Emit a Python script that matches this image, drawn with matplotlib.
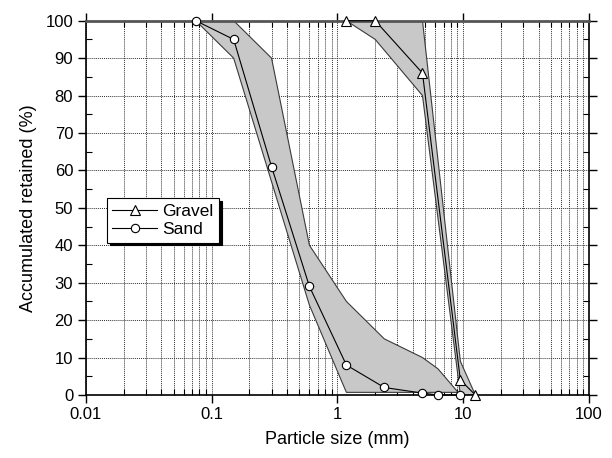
import matplotlib
matplotlib.use("Agg")
import matplotlib.pyplot as plt
from matplotlib.ticker import LogLocator, FixedLocator, NullFormatter, FuncFormatter
from matplotlib.patches import Polygon

plt.rcParams['font.family'] = ['Liberation Sans', 'DejaVu Sans']

# Data
sand_size = [0.075, 0.15, 0.3, 0.6, 1.18, 2.36, 4.75, 6.3, 9.5]
sand_ret = [100, 95, 61, 29, 8, 2, 0.5, 0, 0]
gravel_size = [1.18, 2.0, 4.75, 9.5, 12.5]
gravel_ret = [100, 100, 86, 4, 0]

# Envelopes (upper/right limit then lower/left limit)
sand_env_x = [0.075, 0.15, 0.3, 0.6, 1.18, 2.36, 4.75, 6.3, 9.5, 9.5, 1.18, 0.6, 0.3, 0.15, 0.075]
sand_env_y = [100, 100, 90, 40, 25, 15, 10, 7, 0, 0.7, 0.7, 24, 57, 90, 100]
gravel_env_x = [1.18, 4.75, 9.5, 12.5, 9.5, 4.75, 2.0, 1.18]
gravel_env_y = [100, 100, 9, 0, 0, 80, 95, 100]

fig = plt.figure(figsize=(6.12, 4.58), dpi=100)
ax = fig.add_axes([0.140, 0.1376, 0.8224, 0.8172])

ax.add_patch(Polygon(list(zip(sand_env_x, sand_env_y)), closed=True,
                     facecolor='#c8c8c8', edgecolor='#3a3a3a', linewidth=0.8, zorder=2))
ax.add_patch(Polygon(list(zip(gravel_env_x, gravel_env_y)), closed=True,
                     facecolor='#c8c8c8', edgecolor='#3a3a3a', linewidth=0.8, zorder=2))

ax.plot(gravel_size, gravel_ret, color='black', lw=0.8, marker='^', ms=6.5,
        mfc='white', mec='black', mew=0.8, label='Gravel', zorder=4, clip_on=False)
ax.plot(sand_size, sand_ret, color='black', lw=0.8, marker='o', ms=6,
        mfc='white', mec='black', mew=0.8, label='Sand', zorder=4, clip_on=False)

ax.set_xscale('log')
ax.set_xlim(0.01, 100)
ax.set_ylim(0, 100)

ax.xaxis.set_major_locator(LogLocator(base=10, numticks=10))
ax.xaxis.set_minor_locator(LogLocator(base=10, subs=range(2, 10), numticks=20))
ax.xaxis.set_minor_formatter(NullFormatter())
ax.xaxis.set_major_formatter(FuncFormatter(lambda v, p: {0.01: '0.01', 0.1: '0.1', 1: '1', 10: '10', 100: '100'}.get(round(v, 4), '')))
ax.yaxis.set_major_locator(FixedLocator(range(0, 101, 10)))
ax.yaxis.set_minor_locator(FixedLocator(range(5, 100, 10)))

ax.grid(True, which='major', axis='both', linestyle=(0, (1, 1)), color='#333333', linewidth=0.7, zorder=1)
ax.grid(True, which='minor', axis='x', linestyle=(0, (1, 1)), color='#333333', linewidth=0.7, zorder=1)

ax.tick_params(axis='both', which='major', direction='out', length=6, width=1.0, labelsize=12, pad=3)
ax.tick_params(axis='both', which='minor', direction='in', length=4, width=0.8)
ax.tick_params(axis='x', which='both', top=True)
ax.tick_params(axis='y', which='both', right=True)

for s in ax.spines.values():
    s.set_linewidth(1.2)
    s.set_color('black')
ax.spines['top'].set_color('#555555')
ax.spines['top'].set_linewidth(2.0)

ax.set_xlabel('Particle size (mm)', fontsize=13, labelpad=6)
ax.set_ylabel('Accumulated retained (%)', fontsize=13, labelpad=6)

leg = ax.legend(loc='upper left', bbox_to_anchor=(0.042, 0.525), fontsize=12.5,
                frameon=True, fancybox=False, shadow={'color': 'black', 'alpha': 1},
                borderpad=0.3, handlelength=2.6, handletextpad=0.3, labelspacing=0.2,
                borderaxespad=0)
leg.get_frame().set_edgecolor('black')
leg.get_frame().set_linewidth(0.8)
leg.set_zorder(6)

fig.savefig('out.png', dpi=100)
